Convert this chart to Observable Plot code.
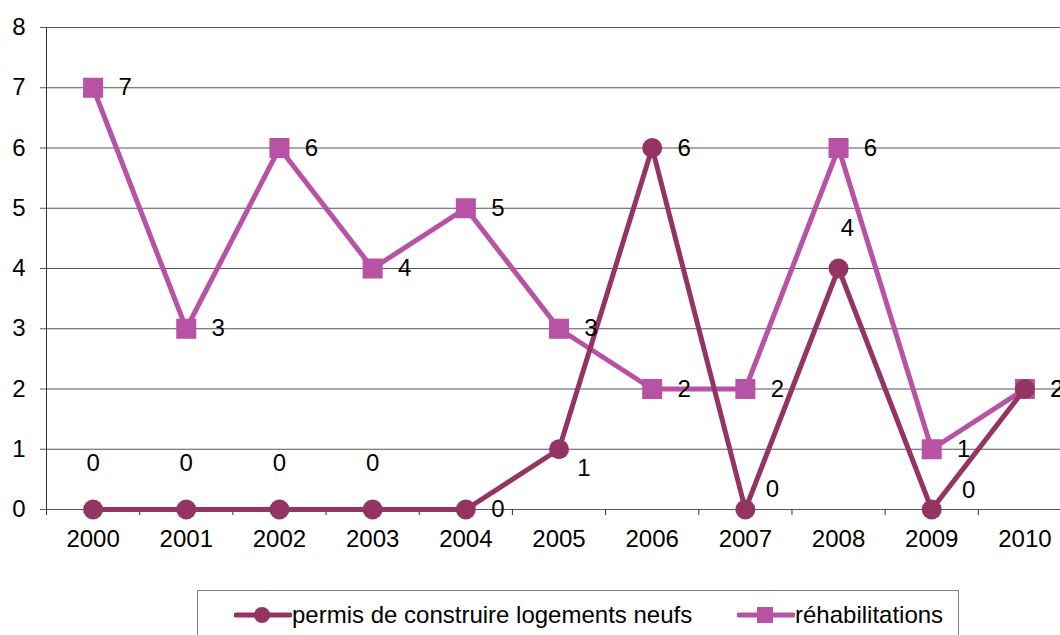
<!DOCTYPE html>
<html>
<head>
<meta charset="utf-8">
<script src="https://cdn.jsdelivr.net/npm/d3@7"></script>
<script src="https://cdn.jsdelivr.net/npm/@observablehq/plot@0.6"></script>
<style>
  html, body { margin: 0; padding: 0; background: #fff; overflow: hidden; }
  body { font-family: "Liberation Sans", Arial, sans-serif; }
  #wrap { position: relative; width: 1060px; height: 635px; }
  #legend { position: absolute; left: 197px; top: 590px; width: 762px; height: 60px;
            border: 1px solid #808080; box-sizing: border-box; font-size: 24px; color: #000; }
  .item { position: absolute; top: 10px; display: flex; align-items: center; height: 28px; }
</style>
</head>
<body>
<div id="wrap"><div id="chart"></div><div id="legend"></div></div>
<script>
const years = [2000, 2001, 2002, 2003, 2004, 2005, 2006, 2007, 2008, 2009, 2010];
const permis = [0, 0, 0, 0, 0, 1, 6, 0, 4, 0, 2];
const rehab = [7, 3, 6, 4, 5, 3, 2, 2, 6, 1, 2];
const yTicks = [0, 1, 2, 3, 4, 5, 6, 7, 8];
const seriesNames = ["permis de construire logements neufs", "réhabilitations"];
const colors = ["#943462", "#b752a5"];

// label placement per point (layout only)
const placements = {
  right: [32, 0], above: [0, -46], aboveRight: [9, -40],
  belowRight: [25, 19], upRight: [27, -20], upRightFar: [37, -19]
};
const permisPlace = ["above","above","above","above","right","belowRight","right","upRight","aboveRight","upRightFar","right"];
const rehabPlace = years.map(() => "right");

const permisData = years.map((y, i) => ({year: y, value: permis[i], place: permisPlace[i]}));
const rehabData = years.map((y, i) => ({year: y, value: rehab[i], place: rehabPlace[i]}));

const font = "Liberation Sans, Arial, sans-serif";
const fs = 24;

function labels(data) {
  return Object.keys(placements).map(p => Plot.text(data.filter(d => d.place === p), {
    x: "year", y: "value", text: d => String(d.value),
    dx: placements[p][0], dy: placements[p][1], fill: "#000", fontSize: fs
  }));
}

const chart = Plot.plot({
  width: 1060,
  height: 575,
  marginLeft: 46, marginRight: 0, marginTop: 27, marginBottom: 66,
  style: { fontFamily: font, fontSize: fs + "px", color: "#000", background: "#fff" },
  x: { type: "linear", domain: [1999.5, 2010.5], range: [46, 1071] },
  y: { domain: [0, 8], range: [509, 27] },
  marks: [
    Plot.gridY(yTicks, { stroke: "#555", strokeOpacity: 1, strokeWidth: 1 }),
    Plot.axisY(yTicks, { tickSize: 6, tickPadding: 15, stroke: "#555", fontSize: fs, tickFormat: d => String(d), label: null }),
    Plot.ruleX([1999.5], { y1: 0, y2: 8, stroke: "#333" }),
    Plot.axisX(years.slice(0, -1).map(y => y + 0.5).concat([1999.5]), { tickSize: 6, tickFormat: () => "", stroke: "#333", label: null }),
    Plot.axisX(years, { tickSize: 0, tickPadding: 20, tickFormat: d => String(d), fontSize: fs, label: null }),
    Plot.line(rehabData, { x: "year", y: "value", stroke: colors[1], strokeWidth: 5 }),
    Plot.dot(rehabData, { x: "year", y: "value", symbol: "square", r: 11.3, fill: colors[1] }),
    Plot.line(permisData, { x: "year", y: "value", stroke: colors[0], strokeWidth: 5 }),
    Plot.dot(permisData, { x: "year", y: "value", symbol: "circle", r: 10, fill: colors[0] }),
    ...labels(rehabData),
    ...labels(permisData)
  ]
});
document.getElementById("chart").appendChild(chart);

// legend
const legend = document.getElementById("legend");
const itemDefs = [
  { left: 36, name: seriesNames[0], color: colors[0], sym: "circle" },
  { left: 539, name: seriesNames[1], color: colors[1], sym: "square" }
];
for (const it of itemDefs) {
  const div = document.createElement("div");
  div.className = "item";
  div.style.left = it.left + "px";
  const marker = it.sym === "circle"
    ? `<circle cx="28" cy="14" r="8" fill="${it.color}"/>`
    : `<rect x="20" y="6" width="16" height="16" fill="${it.color}"/>`;
  div.innerHTML = `<svg width="58" height="28"><line x1="2" x2="56" y1="14" y2="14" stroke="${it.color}" stroke-width="5" stroke-linecap="round"/>${marker}</svg><span>${it.name}</span>`;
  legend.appendChild(div);
}
</script>
</body>
</html>
